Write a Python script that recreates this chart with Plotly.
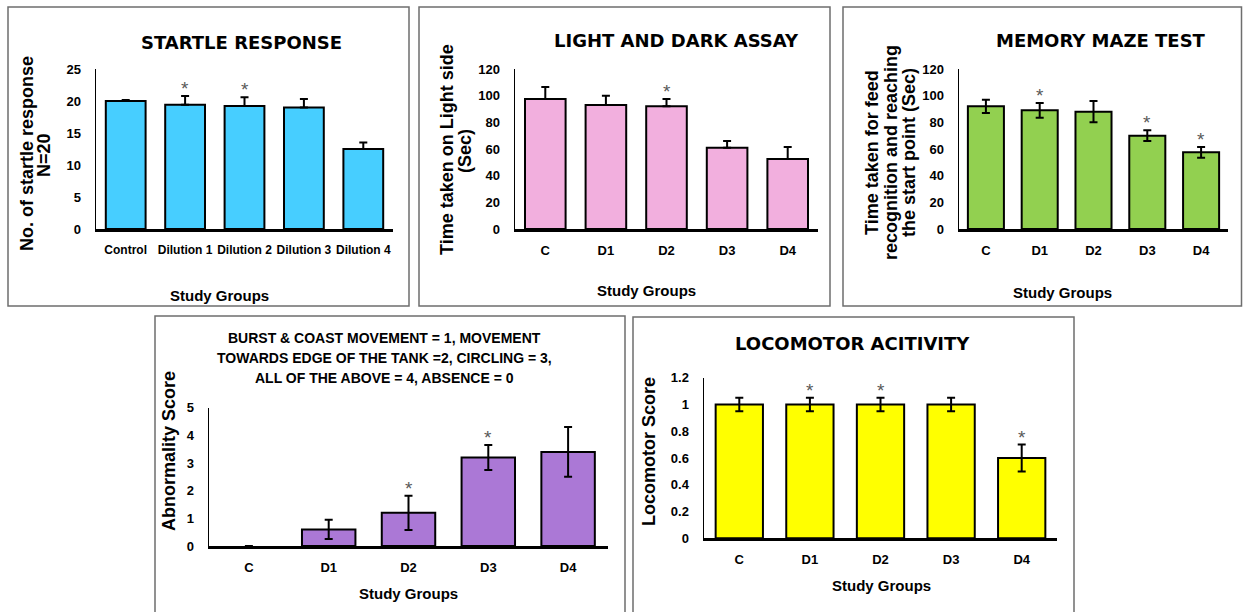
import plotly.graph_objects as go

W, H = 1243, 612

# ---------------- data ----------------
startle_cats = ["Control", "Dilution 1", "Dilution 2", "Dilution 3", "Dilution 4"]
startle_vals = [20.0, 19.4, 19.2, 19.0, 12.5]
startle_err = [0.15, 1.4, 1.4, 1.3, 1.0]
startle_sig = [False, True, True, False, False]

groups = ["C", "D1", "D2", "D3", "D4"]

light_vals = [97.5, 93.0, 92.0, 61.0, 52.5]
light_err = [9.0, 7.0, 5.5, 5.0, 9.0]
light_sig = [False, False, True, False, False]

maze_vals = [92.0, 89.0, 88.0, 70.0, 57.5]
maze_err = [5.0, 5.5, 8.0, 4.0, 4.0]
maze_sig = [False, True, False, True, True]

abn_vals = [0.0, 0.6, 1.2, 3.2, 3.4]
abn_err = [0.0, 0.35, 0.62, 0.45, 0.9]
abn_sig = [False, False, True, True, False]

loco_vals = [1.0, 1.0, 1.0, 1.0, 0.6]
loco_err = [0.05, 0.05, 0.05, 0.05, 0.1]
loco_sig = [False, True, True, False, True]

startle_ticks = [0, 5, 10, 15, 20, 25]
light_ticks = [0, 20, 40, 60, 80, 100, 120]
maze_ticks = [0, 20, 40, 60, 80, 100, 120]
abn_ticks = [0, 1, 2, 3, 4, 5]
loco_ticks = [0, 0.2, 0.4, 0.6, 0.8, 1.0, 1.2]
loco_ticklabels = ["0", "0.2", "0.4", "0.6", "0.8", "1", "1.2"]

FONT = "Liberation Sans, Arial, sans-serif"
TITLE_FONT = "DejaVu Sans, Liberation Sans, sans-serif"


def px(x):
    return x / W


def py(y):
    return 1 - y / H


panels = [
    dict(cats=startle_cats, vals=startle_vals, err=startle_err, sig=startle_sig,
         color="#47CEFF", plus_only=True, rng=[0, 25], ticks=startle_ticks, ticktext=None,
         xd=[96, 393], yd=[69, 229], xfs=12),
    dict(cats=groups, vals=light_vals, err=light_err, sig=light_sig,
         color="#F2AFDE", plus_only=True, rng=[0, 120], ticks=light_ticks, ticktext=None,
         xd=[515, 818], yd=[69, 229], xfs=13),
    dict(cats=groups, vals=maze_vals, err=maze_err, sig=maze_sig,
         color="#92D050", plus_only=False, rng=[0, 120], ticks=maze_ticks, ticktext=None,
         xd=[959, 1228], yd=[69, 229], xfs=13),
    dict(cats=groups, vals=abn_vals, err=abn_err, sig=abn_sig,
         color="#AB78D6", plus_only=False, rng=[0, 5], ticks=abn_ticks, ticktext=None,
         xd=[209, 608], yd=[407.7, 546], xfs=13),
    dict(cats=groups, vals=loco_vals, err=loco_err, sig=loco_sig,
         color="#FFFF00", plus_only=False, rng=[0, 1.2], ticks=loco_ticks, ticktext=loco_ticklabels,
         xd=[704, 1057], yd=[377.7, 538.3], xfs=13),
]

fig = go.Figure()
layout = {}
annotations = []

for i, p in enumerate(panels):
    n = i + 1
    xa = "x" if n == 1 else f"x{n}"
    ya = "y" if n == 1 else f"y{n}"
    err_y = dict(type="data", array=p["err"], color="black", thickness=2, width=4, visible=True)
    if p["plus_only"]:
        err_y["symmetric"] = False
        err_y["arrayminus"] = [0] * len(p["err"])
    outline_w = [2 if v > 0 else 0 for v in p["vals"]]
    fig.add_trace(go.Bar(
        x=p["cats"], y=p["vals"], xaxis=xa, yaxis=ya,
        marker=dict(color=p["color"], line=dict(color="black", width=outline_w)),
        error_y=err_y, showlegend=False,
    ))
    xkey = "xaxis" if n == 1 else f"xaxis{n}"
    ykey = "yaxis" if n == 1 else f"yaxis{n}"
    layout[xkey] = dict(
        domain=[px(p["xd"][0]), px(p["xd"][1])], anchor=ya,
        showline=True, linecolor="black", linewidth=2.5, showgrid=False, zeroline=False,
        ticks="", ticklabelstandoff=8, tickangle=0, automargin=False,
        tickfont=dict(family=FONT, size=p["xfs"], color="black", weight="bold"),
        fixedrange=True,
    )
    ydict = dict(
        domain=[py(p["yd"][1]), py(p["yd"][0])], anchor=xa, range=p["rng"],
        showline=True, linecolor="black", linewidth=1.5, showgrid=False, zeroline=False,
        ticks="", ticklabelstandoff=11, tickmode="array", tickvals=p["ticks"], automargin=False,
        tickfont=dict(family=FONT, size=13, color="black", weight="bold"),
        fixedrange=True,
    )
    if p["ticktext"] is not None:
        ydict["ticktext"] = p["ticktext"]
    layout[ykey] = ydict
    # significance asterisks
    for c, v, e, s in zip(p["cats"], p["vals"], p["err"], p["sig"]):
        if s:
            annotations.append(dict(
                x=c, y=v + e, xref=xa, yref=ya, text="*", showarrow=False,
                yanchor="bottom", yshift=-5,
                font=dict(family=FONT, size=19, color="#595959"),
            ))


def txt(x, y, text, size, angle=0, family=FONT):
    annotations.append(dict(
        x=px(x), y=py(y), xref="paper", yref="paper", text=text, showarrow=False,
        xanchor="center", yanchor="middle", textangle=angle,
        font=dict(family=family, size=size, color="black", weight="bold"),
    ))


# panel titles
txt(241, 43, "STARTLE RESPONSE", 18, family=TITLE_FONT)
txt(676, 41, "LIGHT AND DARK ASSAY", 18, family=TITLE_FONT)
txt(1101, 41, "MEMORY MAZE TEST", 18, family=TITLE_FONT)
txt(384, 338, "BURST &amp; COAST MOVEMENT = 1, MOVEMENT", 14)
txt(384, 358, "TOWARDS EDGE OF THE TANK =2, CIRCLING = 3,", 14)
txt(384, 378, "ALL OF THE ABOVE = 4, ABSENCE = 0", 14)
txt(852, 343, "LOCOMOTOR ACITIVITY", 18, family=TITLE_FONT)

# y-axis titles (rotated)
txt(27, 154, "No. of startle response", 18, -90)
txt(44, 155, "N=20", 18, -90)
txt(447, 150, "Time taken on Light side", 18, -90)
txt(465, 151, "(Sec)", 18, -90)
txt(872, 153, "Time taken for feed", 18, -90)
txt(891, 153, "recognition and reaching", 18, -90)
txt(909, 153, "the start point (Sec)", 18, -90)
txt(169, 451, "Abnormality Score", 18, -90)
txt(649, 452, "Locomotor Score", 18, -90)

# x-axis titles
txt(219, 295, "Study Groups", 15)
txt(646, 290, "Study Groups", 15)
txt(1062, 292, "Study Groups", 15)
txt(408, 593, "Study Groups", 15)
txt(881, 585, "Study Groups", 15)

# panel borders
shapes = []
for (x0, y0, x1, y1) in [(8, 7, 409, 306), (419, 7, 830, 306), (843, 7, 1241.5, 306),
                         (155, 316, 625, 620), (633, 317, 1074, 620)]:
    shapes.append(dict(type="rect", xref="paper", yref="paper",
                       x0=px(x0), x1=px(x1), y0=py(y1), y1=py(y0),
                       line=dict(color="#6e6e6e", width=1.5), fillcolor="rgba(0,0,0,0)"))

fig.update_layout(
    width=W, height=H, autosize=False,
    margin=dict(l=0, r=0, t=0, b=0, pad=0, autoexpand=False),
    paper_bgcolor="white", plot_bgcolor="white",
    bargap=0.33, showlegend=False,
    annotations=annotations, shapes=shapes,
    **layout,
)

fig.write_html(
    "out.html",
    config={"displayModeBar": False, "staticPlot": True},
    post_script="document.body.style.margin='0';document.body.style.overflow='hidden';",
)
